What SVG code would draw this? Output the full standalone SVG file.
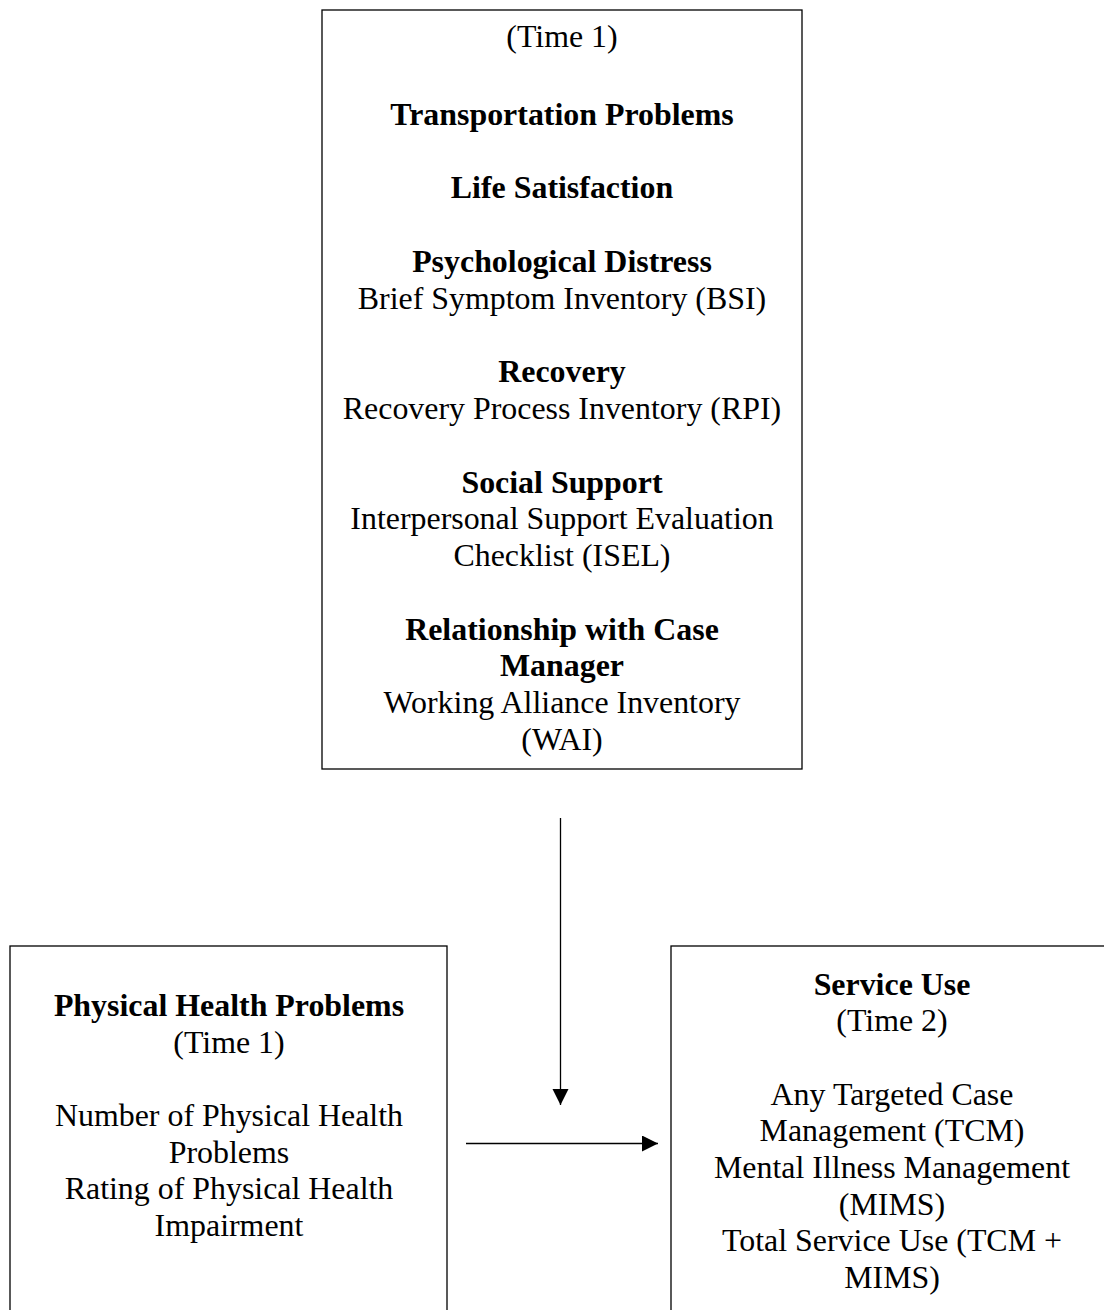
<svg xmlns="http://www.w3.org/2000/svg" width="1104" height="1310" viewBox="0 0 1104 1310">
<style>
.box{fill:#fff;stroke:#000;stroke-width:1.3}
text{font-family:"Liberation Serif","Times New Roman",serif;font-size:31.9px;fill:#000;text-anchor:middle}
.b{font-weight:bold}
.conn{stroke:#000;stroke-width:1.3;fill:none}
</style>
<defs>
<marker id="arr" markerWidth="17" markerHeight="17" refX="16" refY="8" orient="auto" markerUnits="userSpaceOnUse">
<path d="M0,0 L16,8 L0,16 Z" fill="#000"/>
</marker>
</defs>
<rect width="1104" height="1310" fill="#fff"/>
<g id="moderators">
<rect class="box" x="322" y="10" width="480" height="759"/>
<text x="562" y="47">(Time 1)</text>
<text x="562" y="125" class="b">Transportation Problems</text>
<text x="562" y="198" class="b">Life Satisfaction</text>
<text x="562" y="272" class="b">Psychological Distress</text>
<text x="562" y="309">Brief Symptom Inventory (BSI)</text>
<text x="562" y="382" class="b">Recovery</text>
<text x="562" y="419">Recovery Process Inventory (RPI)</text>
<text x="562" y="493" class="b">Social Support</text>
<text x="562" y="529">Interpersonal Support Evaluation</text>
<text x="562" y="566">Checklist (ISEL)</text>
<text x="562" y="640" class="b">Relationship with Case</text>
<text x="562" y="676" class="b">Manager</text>
<text x="562" y="713">Working Alliance Inventory</text>
<text x="562" y="750">(WAI)</text>
</g>
<g id="physical-health">
<rect class="box" x="10" y="946" width="437" height="400"/>
<text x="229" y="1016" class="b">Physical Health Problems</text>
<text x="229" y="1053">(Time 1)</text>
<text x="229" y="1126">Number of Physical Health</text>
<text x="229" y="1163">Problems</text>
<text x="229" y="1199">Rating of Physical Health</text>
<text x="229" y="1236">Impairment</text>
</g>
<g id="service-use">
<rect class="box" x="671" y="946" width="443" height="400"/>
<text x="892" y="995" class="b">Service Use</text>
<text x="892" y="1031">(Time 2)</text>
<text x="892" y="1105">Any Targeted Case</text>
<text x="892" y="1141">Management (TCM)</text>
<text x="892" y="1178">Mental Illness Management</text>
<text x="892" y="1215">(MIMS)</text>
<text x="892" y="1251">Total Service Use (TCM +</text>
<text x="892" y="1288">MIMS)</text>
</g>
<g id="connectors">
<line class="conn" x1="560.5" y1="818" x2="560.5" y2="1105" marker-end="url(#arr)"/>
<line class="conn" x1="466" y1="1143.5" x2="658" y2="1143.5" marker-end="url(#arr)"/>
</g>
</svg>
